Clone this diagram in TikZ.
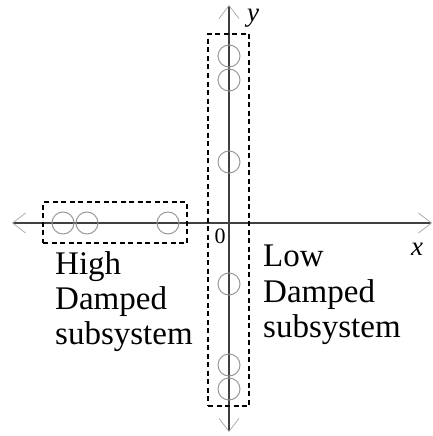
\documentclass[tikz,border=0pt]{standalone}
\usepackage{fontspec}
\setmainfont{Liberation Serif}
\usetikzlibrary{arrows.meta}
\begin{document}
\begin{tikzpicture}[x=1pt,y=-1pt,
  axis/.style={draw=black!75,line width=1.4pt,
    arrows={Straight Barb[length=13pt,width=20pt,line width=0.7pt,color=black!35]-Straight Barb[length=13pt,width=20pt,line width=0.7pt,color=black!35]}},
  pole/.style={circle,draw=black!40,line width=1pt,minimum size=22pt,inner sep=0pt},
  group/.style={draw=black,dash pattern=on 5pt off 3.5pt,line width=1.1pt},
  lbl/.style={inner sep=0pt,anchor=base west,font=\fontsize{33}{36}\selectfont},
  axlbl/.style={inner sep=0pt,font=\fontsize{27}{30}\selectfont\itshape}]
\useasboundingbox (0,0) rectangle (432,436);
% axes
\coordinate (xl) at (12,223);
\coordinate (xr) at (432,223);
\coordinate (yt) at (229,5);
\coordinate (yb) at (229,432);
\draw[axis] (xl) -- (xr);
\draw[axis] (yb) -- (yt);
% dashed groups
\node[group,inner sep=0pt,minimum width=41pt,minimum height=372pt] (lowbox) at (228.5,220) {};
\node[group,inner sep=0pt,minimum width=144pt,minimum height=41pt] (highbox) at (115,222.5) {};
% poles of the low damped subsystem
\node[pole] (v1) at (229,56) {};
\node[pole] (v2) at (229,80) {};
\node[pole] (v3) at (229,162) {};
\node[pole] (v4) at (229,284) {};
\node[pole] (v5) at (229,365) {};
\node[pole] (v6) at (229,389) {};
% poles of the high damped subsystem
\node[pole] (h1) at (63,223) {};
\node[pole] (h2) at (87,223) {};
\node[pole] (h3) at (168,223) {};
% axis labels
\node[axlbl] (ylab) at (253,18) {y};
\node[axlbl] (xlab) at (417,249) {x};
\node[inner sep=0pt,font=\fontsize{22}{24}\selectfont] (zero) at (220,236) {0};
% texts
\node[lbl] (hi1) at (55,274) {High};
\node[lbl] (hi2) at (55,309) {Damped};
\node[lbl] (hi3) at (55,344) {subsystem};
\node[lbl] (lo1) at (263,266) {Low};
\node[lbl] (lo2) at (263,302) {Damped};
\node[lbl] (lo3) at (263,337) {subsystem};
\end{tikzpicture}
\end{document}
